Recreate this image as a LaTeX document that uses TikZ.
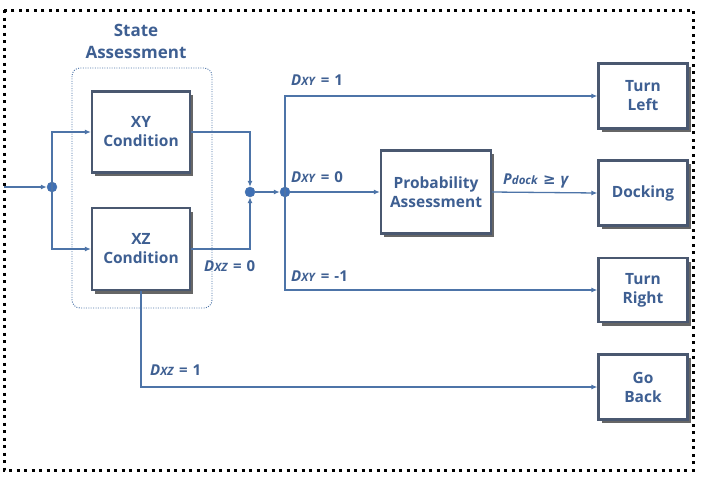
\documentclass[tikz,border=0pt]{standalone}
\usepackage{fontspec}
\setmainfont{Open Sans}
\newfontfamily\symfont{DejaVu Sans}
\usetikzlibrary{arrows.meta,shadows}
\definecolor{tx}{HTML}{3E5F92}
\definecolor{ln}{HTML}{4D74A8}
\definecolor{bd}{HTML}{4A5870}
\definecolor{dotc}{HTML}{3F70B5}
\tikzset{
  blk/.style={draw=bd, line width=2.2pt, fill=white, text=tx, font=\fontsize{15.5}{19}\selectfont\bfseries, align=center, minimum width=#1, inner sep=0pt,
    drop shadow={shadow xshift=3pt, shadow yshift=-3.5pt, fill=black!75, opacity=0.8}},
  conn/.style={draw=ln, line width=1.3pt},
  arr/.style={conn, -{Latex[length=6pt,width=5pt]}},
  jdot/.style={circle, fill=dotc, draw=ln, inner sep=0pt, minimum size=10pt},
  lbl/.style={text=tx, font=\fontsize{15}{18}\selectfont\bfseries, anchor=base west, inner sep=0pt},
}
\newcommand{\DD}[2]{\textit{D}{\fontsize{11.5}{12}\selectfont\textit{#1}}\,\,=\,\,#2}
\begin{document}
\begin{tikzpicture}[x=1pt,y=-1pt]
\useasboundingbox (0,0) rectangle (703,480);
% outer border
\draw[line width=3pt, dash pattern=on 3pt off 4.5pt] (4,10) rectangle (693,470);
% state assessment group
\draw[draw=ln, line width=0.9pt, dash pattern=on 1pt off 1.4pt, rounded corners=8pt] (72,68) rectangle (212,308);
\node[text=tx, font=\fontsize{17}{22}\selectfont\bfseries, align=center] (sa) at (136,41) {State\\Assessment};
% boxes
\node[blk, minimum width=98pt, minimum height=81pt] (xy) at (141,132) {XY\\Condition};
\node[blk, minimum width=98pt, minimum height=82pt] (xz) at (141,249) {XZ\\Condition};
\node[blk, minimum width=110pt, minimum height=83pt] (pa) at (436,192) {Probability\\Assessment};
\node[blk, minimum width=89pt, minimum height=65pt] (tl) at (643,96) {Turn\\Left};
\node[blk, minimum width=89pt, minimum height=65pt] (dk) at (643,193) {Docking};
\node[blk, minimum width=89pt, minimum height=64pt] (tr) at (643,290) {Turn\\Right};
\node[blk, minimum width=89pt, minimum height=65pt] (gb) at (643,387) {Go\\Back};
% junctions
\coordinate (in) at (4,187);
\node[jdot] (j1) at (52,187) {};
\node[jdot] (j2) at (250,192) {};
\node[jdot] (j3) at (285,192) {};
% input
\draw[arr] (in) -- (j1);
\draw[arr] (j1.center) |- (xy.west);
\draw[arr] (j1.center) |- (xz.west);
% outputs to j2
\draw[arr] (xy.east) -| (j2);
\draw[arr] (xz.east) -| (j2);
\draw[arr] (j2) -- (j3);
% from j3
\draw[arr] (j3.center) |- (tl.west);
\draw[arr] (j3) -- (pa.west);
\draw[arr] (j3.center) |- (tr.west);
\draw[arr] (pa.east) -- (dk.west);
\draw[arr] (xz.south) |- (gb.west);
% labels
\node[lbl] (l1) at (291,85) {\DD{XY}{1}};
\node[lbl] (l2) at (291,182) {\DD{XY}{0}};
\node[lbl] (l3) at (291,281) {\DD{XY}{-1}};
\node[lbl] (l4) at (503,184) {\textit{P}{\fontsize{11.5}{12}\selectfont\textit{dock}}\,\,{\symfont\bfseries ≥}\,\,\textit{γ}};
\node[lbl] (l5) at (204,271) {\DD{XZ}{0}};
\node[lbl] (l6) at (150,375) {\DD{XZ}{1}};
\end{tikzpicture}
\end{document}
